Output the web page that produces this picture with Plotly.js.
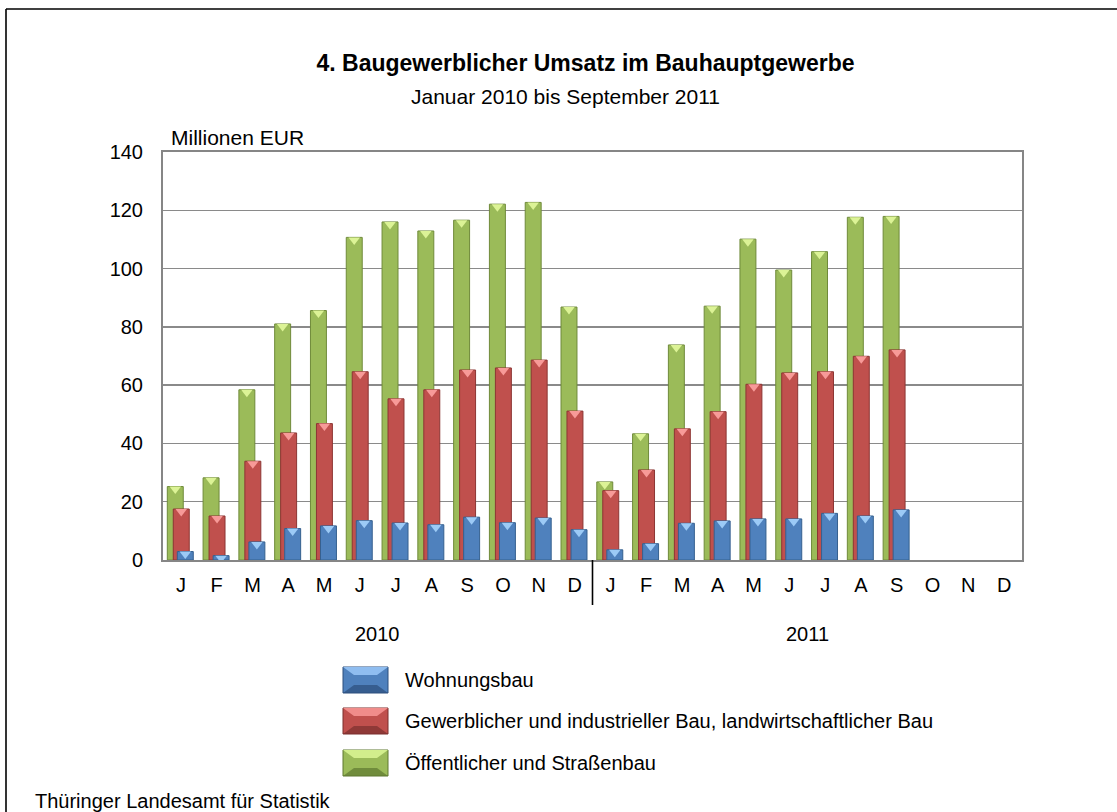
<!DOCTYPE html>
<html>
<head>
<meta charset="utf-8">
<script src="https://cdn.plot.ly/plotly-3.0.1.min.js"></script>
<style>
  html, body { margin: 0; padding: 0; background: #ffffff; }
  #chart { width: 1117px; height: 812px; }
</style>
</head>
<body>
<div id="chart"></div>
<script>
// ---- data ----
const months = ['J','F','M','A','M','J','J','A','S','O','N','D','J','F','M','A','M','J','J','A','S','O','N','D'];
const years = ['2010', '2011'];
const wohnungsbau = [2.9, 1.5, 6.2, 10.8, 11.7, 13.5, 12.7, 12.1, 14.7, 12.8, 14.4, 10.4,
                     3.5, 5.6, 12.6, 13.4, 14.1, 14.1, 16.0, 15.1, 17.2, null, null, null];
const gewerblich = [17.5, 15.1, 33.9, 43.6, 46.8, 64.6, 55.3, 58.4, 65.2, 65.9, 68.6, 51.1,
                    23.8, 30.9, 45.0, 50.9, 60.3, 64.2, 64.6, 69.9, 72.1, null, null, null];
const oeffentlich = [25.2, 28.2, 58.4, 81.0, 85.6, 110.7, 116.0, 112.9, 116.6, 122.1, 122.7, 86.8,
                     26.8, 43.3, 73.8, 87.1, 110.1, 99.5, 105.8, 117.6, 117.9, null, null, null];
const seriesNames = ['Wohnungsbau',
                     'Gewerblicher und industrieller Bau, landwirtschaftlicher Bau',
                     'Öffentlicher und Straßenbau'];

// ---- layout helpers ----
const W = 1117, H = 812;
const M = {l: 163, r: 95, t: 152, b: 252};
const PW = W - M.l - M.r, PH = H - M.t - M.b;
const px = x => (x - M.l) / PW;
const py = y => (M.t + PH - y) / PH;
const FONT = 'Arial, "Liberation Sans", sans-serif';

const idx = months.map((m, i) => i);
const BW = 0.446;
const styles = [
  {name: seriesNames[2], y: oeffentlich, offset: -0.38,  color: '#9bbb59', line: '#6f8a3a', cap: '#dcf396'},
  {name: seriesNames[1], y: gewerblich,  offset: -0.213, color: '#c0504d', line: '#8c3533', cap: '#f79a98'},
  {name: seriesNames[0], y: wohnungsbau, offset: -0.10,  color: '#4f81bd', line: '#35608f', cap: '#9ccaf6'}
];

const traces = [];
styles.forEach(s => {
  traces.push({
    type: 'bar', name: s.name, x: idx, y: s.y,
    width: BW, offset: s.offset,
    marker: {color: s.color, line: {color: s.line, width: 1}},
    showlegend: false, hoverinfo: 'y'
  });
});
// bevel caps on top of each bar
styles.forEach(s => {
  traces.push({
    type: 'scatter', mode: 'markers',
    x: idx.map(i => i + s.offset + BW / 2),
    y: s.y.map(v => v == null ? null : v - 0.86),
    marker: {symbol: 'triangle-down', size: 10, color: s.cap, line: {width: 0}},
    showlegend: false, hoverinfo: 'skip', cliponaxis: true
  });
});

// ---- legend (custom, beveled swatches) ----
const shapes = [];
const annotations = [];
const legendRows = [
  {name: seriesNames[0], color: '#4f81bd', light: '#8fbdf0', dark: '#2c4f7c', y0: 667, y1: 693, ty: 680},
  {name: seriesNames[1], color: '#c0504d', light: '#f08c8a', dark: '#7a2f2d', y0: 708, y1: 734, ty: 721},
  {name: seriesNames[2], color: '#9bbb59', light: '#d2ee8c', dark: '#5e7830', y0: 750, y1: 776, ty: 763}
];
legendRows.forEach(r => {
  const x0 = 343, x1 = 388, ix0 = 354, ix1 = 377;
  const iy0 = r.y0 + 8, iy1 = r.y1 - 8;
  shapes.push({type: 'rect', xref: 'paper', yref: 'paper',
    x0: px(x0), x1: px(x1), y0: py(r.y1), y1: py(r.y0),
    fillcolor: r.color, line: {color: r.dark, width: 1}});
  shapes.push({type: 'path', xref: 'paper', yref: 'paper',
    path: `M ${px(x0)},${py(r.y0)} L ${px(x1)},${py(r.y0)} L ${px(ix1)},${py(iy0)} L ${px(ix0)},${py(iy0)} Z`,
    fillcolor: r.light, line: {width: 0}});
  shapes.push({type: 'path', xref: 'paper', yref: 'paper',
    path: `M ${px(x0)},${py(r.y1)} L ${px(x1)},${py(r.y1)} L ${px(ix1)},${py(iy1)} L ${px(ix0)},${py(iy1)} Z`,
    fillcolor: r.dark, opacity: 0.7, line: {width: 0}});
  annotations.push({xref: 'paper', yref: 'paper', x: px(403), y: py(r.ty),
    xanchor: 'left', yanchor: 'middle', showarrow: false, text: r.name,
    font: {family: FONT, size: 20, color: '#000'}});
});

// outer frame
shapes.push({type: 'line', xref: 'paper', yref: 'paper', x0: px(6), x1: px(1130), y0: py(9), y1: py(9),
  line: {color: '#000', width: 1.6}});
shapes.push({type: 'line', xref: 'paper', yref: 'paper', x0: px(6), x1: px(6), y0: py(9), y1: py(830),
  line: {color: '#000', width: 1.6}});
// year separator
shapes.push({type: 'line', xref: 'x', yref: 'paper', x0: 11.5, x1: 11.5, y0: 0, y1: py(605),
  line: {color: '#000', width: 1.6}});

// text annotations
annotations.push({xref: 'paper', yref: 'paper', x: px(565), y: py(96), xanchor: 'center', yanchor: 'middle',
  showarrow: false, text: 'Januar 2010 bis September 2011', font: {family: FONT, size: 21, color: '#000'}});
annotations.push({xref: 'paper', yref: 'paper', x: px(169), y: py(138), xanchor: 'left', yanchor: 'middle',
  showarrow: false, text: 'Millionen EUR', font: {family: FONT, size: 21, color: '#000'}});
annotations.push({xref: 'x', yref: 'paper', x: 5.5, y: py(634), xanchor: 'center', yanchor: 'middle',
  showarrow: false, text: years[0], font: {family: FONT, size: 20, color: '#000'}});
annotations.push({xref: 'x', yref: 'paper', x: 17.5, y: py(634), xanchor: 'center', yanchor: 'middle',
  showarrow: false, text: years[1], font: {family: FONT, size: 20, color: '#000'}});
annotations.push({xref: 'paper', yref: 'paper', x: px(33), y: py(801), xanchor: 'left', yanchor: 'middle',
  showarrow: false, text: 'Thüringer Landesamt für Statistik', font: {family: FONT, size: 20, color: '#000'}});

const layout = {
  width: W, height: H,
  margin: M,
  paper_bgcolor: '#ffffff', plot_bgcolor: '#ffffff',
  font: {family: FONT, size: 20, color: '#000'},
  barmode: 'overlay',
  title: {
    text: '<b>4. Baugewerblicher Umsatz im Bauhauptgewerbe</b>',
    font: {family: FONT, size: 23, color: '#000'},
    xref: 'container', yref: 'container',
    x: 585.5 / W, xanchor: 'center', y: 1 - 63 / H, yanchor: 'middle'
  },
  xaxis: {
    type: 'linear', range: [-0.5, 23.5],
    tickmode: 'array', tickvals: idx, ticktext: months,
    showgrid: false, zeroline: false,
    showline: true, linecolor: '#868686', linewidth: 2, mirror: true,
    ticks: '', ticklabelstandoff: 6,
    tickfont: {family: FONT, size: 20, color: '#000'}
  },
  yaxis: {
    range: [0, 140], tick0: 0, dtick: 20,
    showgrid: true, gridcolor: '#8a8a8a', gridwidth: 1.3,
    zeroline: false,
    showline: true, linecolor: '#868686', linewidth: 2, mirror: true,
    ticks: '', ticklabelstandoff: 14,
    tickfont: {family: FONT, size: 20, color: '#000'}
  },
  shapes: shapes,
  annotations: annotations
};

Plotly.newPlot('chart', traces, layout, {displayModeBar: false, staticPlot: true});
</script>
</body>
</html>
